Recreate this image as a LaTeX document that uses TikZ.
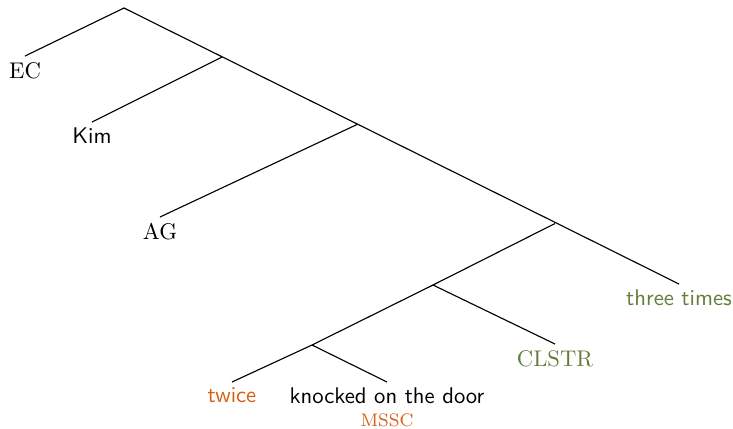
\documentclass[tikz,border=0pt]{standalone}
\usepackage{xcolor}
\usepackage{tikz}
\usetikzlibrary{positioning}

\definecolor{treeorange}{RGB}{214,94,18}
\definecolor{treegreen}{RGB}{98,126,58}

\tikzset{
    leaf/.style={anchor=north, inner sep=2.5pt},
    sfleaf/.style={leaf, font=\sffamily},
    branch/.style={line width=0.5pt}
}

\begin{document}
\begin{tikzpicture}[x=0.0155cm, y=-0.0155cm]
    \useasboundingbox (0,0) rectangle (733,428);

    % Inner points of the tree
    \coordinate (root) at (124,8);
    \coordinate (n1) at (222,57);
    \coordinate (n2) at (357,124.5);
    \coordinate (n3) at (555,223.5);
    \coordinate (n4) at (433,285);
    \coordinate (n5) at (312,345);

    % Leaves
    \node[leaf] (ec) at (25,56) {EC};
    \node[sfleaf] (kim) at (92,122) {Kim};
    \node[leaf] (ag) at (160,217) {AG};
    \node[sfleaf, text=treegreen] (three) at (679,284) {three times};
    \node[leaf, text=treegreen] (clstr) at (555,344) {CLSTR};
    \node[sfleaf, text=treeorange] (twice) at (232,382) {twice};
    \node[sfleaf] (door) at (387,382) {knocked on the door};
    \node[font=\footnotesize, text=treeorange, inner sep=0.5pt, below=0.8pt of door] (mssc) {MSSC};

    % Branches
    \draw[branch] (ec.north) -- (root) -- (three.north);
    \draw[branch] (n1) -- (kim.north);
    \draw[branch] (n2) -- (ag.north);
    \draw[branch] (n3) -- (n4) -- (clstr.north);
    \draw[branch] (n4) -- (n5) -- (twice.north);
    \draw[branch] (n5) -- (door.north);
\end{tikzpicture}
\end{document}
